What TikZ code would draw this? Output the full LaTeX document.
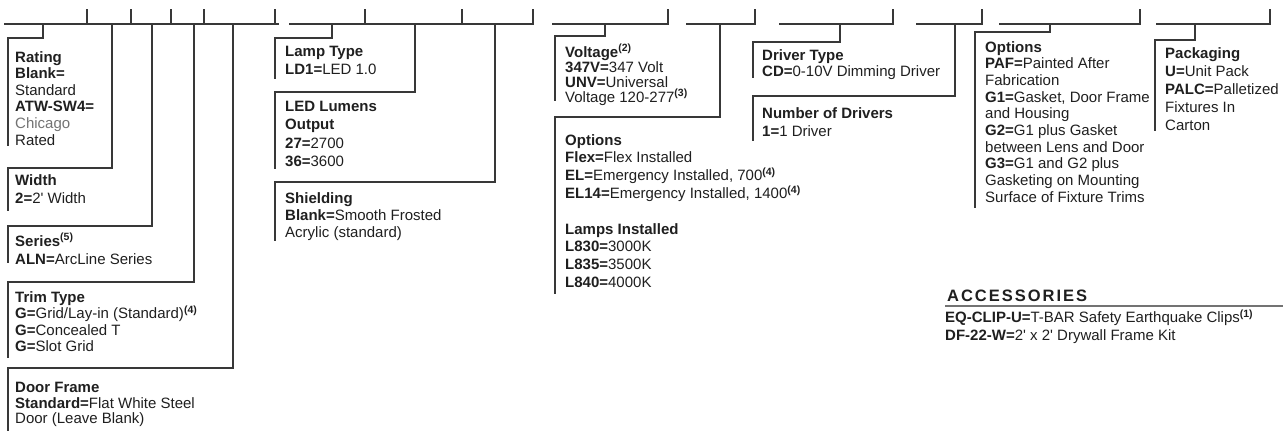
\documentclass[tikz,border=0pt]{standalone}
\usepackage{fontspec}
\setmainfont{Liberation Sans}
\usetikzlibrary{positioning}

\tikzset{
  rule/.style={line width=1.4pt, draw=black!78, line cap=rect},
  spec/.style={anchor=north west, inner sep=0pt, align=left, text=black!88,
    font=\fontsize{15}{#1}\selectfont},
  spec/.default=17,
}
\newcommand{\code}[1]{\textbf{#1}}
\newcommand{\fnref}[1]{\textsuperscript{\textbf{(#1)}}}
\newcommand{\ft}{\textquotesingle}

\begin{document}
\begin{tikzpicture}[x=1pt, y=-1pt]
\useasboundingbox (0,0) rectangle (1283,431);
\def\yl{24}
\def\tk{14}

% Code line, one stretch per group of blanks
\foreach \a/\b in {5/278, 290/533, 553/668, 687/755, 780/893, 917/982, 1000/1140, 1157/1270}
  \draw[rule] (\a,\yl) -- (\b,\yl);

% Ticks closing each blank
\foreach \t in {87,131,171,204,275,365,462,533,668,755,893,982,1140,1270}
  \draw[rule] (\t,\yl) -- ++(0,-\tk);

% Brackets: left edge x / top edge y / drop x / bottom y
\foreach \xl/\yt/\xc/\yb in {8/38/43/145, 8/168/112/210, 8/226/152/262,
    8/282/194/357, 8/368/233/431,
    275/38/332/78, 275/92/415/168, 275/182/495/240,
    555/36/605/100, 555/117/720/293,
    753/42/840/77, 753/96/955/140,
    975/32/1050/207, 1155/40/1195/130}
  \draw[rule] (\xl,\yb) |- (\xc,\yt) -- (\xc,\yl);

% Left column
\node[spec=16.6] (rating) at (15,51) {\code{Rating}\\\code{Blank=}\\Standard\\\code{ATW-SW4=}\\\textcolor{black!55}{Chicago}\\Rated};
\node[spec=18] (width) at (15,174) {\code{Width}\\\code{2=}2\ft{} Width};
\node[spec=18] (series) at (15,233) {\code{Series}\fnref{5}\\\code{ALN=}ArcLine Series};
\node[spec=16.6] (trim) at (15,291) {\code{Trim Type}\\\code{G=}Grid/Lay-in (Standard)\fnref{4}\\\code{G=}Concealed T\\\code{G=}Slot Grid};
\node[spec=15.5] (door) at (15,382) {\code{Door Frame}\\\code{Standard=}Flat White Steel\\Door (Leave Blank)};

% Lamp column
\node[spec=18] (lamp) at (285,46) {\code{Lamp Type}\\\code{LD1=}LED 1.0};
\node[spec=18.3] (lumens) at (285,101) {\code{LED Lumens}\\\code{Output}\\\code{27=}2700\\\code{36=}3600};
\node[spec] (shield) at (285,192) {\code{Shielding}\\\code{Blank=}Smooth Frosted\\Acrylic (standard)};

% Voltage column
\node[spec=15] (volt) at (565,44) {\code{Voltage}\fnref{2}\\\code{347V=}347 Volt\\\code{UNV=}Universal\\Voltage 120-277\fnref{3}};
\node[spec=17.8] (opts) at (565,134) {\code{Options}\\\code{Flex=}Flex Installed\\\code{EL=}Emergency Installed, 700\fnref{4}\\\code{EL14=}Emergency Installed, 1400\fnref{4}\\[17.8pt]\code{Lamps Installed}\\\code{L830=}3000K\\\code{L835=}3500K\\\code{L840=}4000K};

% Driver column
\node[spec=16] (driver) at (762,49) {\code{Driver Type}\\\code{CD=}0-10V Dimming Driver};
\node[spec=18] (drivers) at (762,107) {\code{Number of Drivers}\\\code{1=}1 Driver};

% Options and packaging
\node[spec=16.7] (extras) at (985,41) {\code{Options}\\\code{PAF=}Painted After\\Fabrication\\\code{G1=}Gasket, Door Frame\\and Housing\\\code{G2=}G1 plus Gasket\\between Lens and Door\\\code{G3=}G1 and G2 plus\\Gasketing on Mounting\\Surface of Fixture Trims};
\node[spec=18] (pack) at (1165,47) {\code{Packaging}\\\code{U=}Unit Pack\\\code{PALC=}Palletized\\Fixtures In\\Carton};

% Accessories
\node[anchor=base west, inner sep=0pt, text=black!88,
  font=\fontsize{16.5}{18}\selectfont\bfseries\addfontfeature{LetterSpace=12}] (acc) at (947,301) {ACCESSORIES};
\coordinate (accend) at (1283,306);
\draw[line width=2pt, black!55] (945,306) -- (accend);
\node[spec=18, below=8pt of acc.south west, anchor=north west, xshift=-2pt] (acclist) {\code{EQ-CLIP-U=}T-BAR Safety Earthquake Clips\fnref{1}\\\code{DF-22-W=}2\ft{} x 2\ft{} Drywall Frame Kit};
\end{tikzpicture}
\end{document}
